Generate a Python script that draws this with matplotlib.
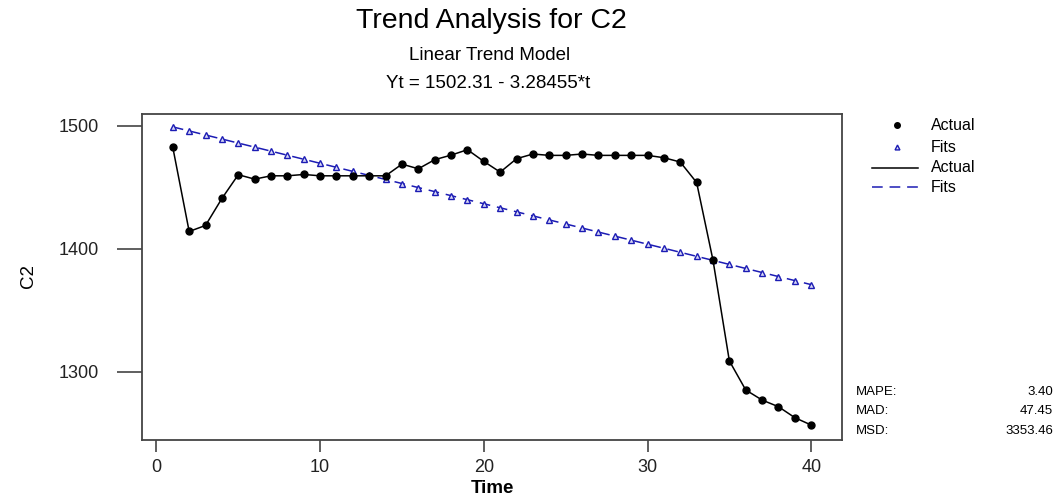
import numpy as np
import matplotlib
matplotlib.use("Agg")
from matplotlib import pyplot as plt
from matplotlib.lines import Line2D

plt.rcParams['font.family'] = ['Liberation Sans', 'DejaVu Sans']

# data
t = list(range(1, 41))
actual = [1482.4, 1414.1, 1419.0, 1440.9, 1460.2, 1456.6, 1459.3, 1459.3, 1460.4, 1459.3,
          1459.3, 1459.3, 1459.3, 1459.3, 1468.8, 1465.0, 1472.4, 1476.1, 1480.5, 1471.0,
          1462.3, 1473.2, 1477.0, 1475.9, 1475.9, 1477.0, 1475.9, 1475.9, 1475.9, 1475.9,
          1474.0, 1470.5, 1453.9, 1390.8, 1309.0, 1285.4, 1277.2, 1271.8, 1262.9, 1256.9]
fits = [1499.03, 1495.74, 1492.46, 1489.17, 1485.89, 1482.60, 1479.32, 1476.03, 1472.75, 1469.46,
        1466.18, 1462.90, 1459.61, 1456.33, 1453.04, 1449.76, 1446.47, 1443.19, 1439.90, 1436.62,
        1433.33, 1430.05, 1426.77, 1423.48, 1420.20, 1416.91, 1413.63, 1410.34, 1407.06, 1403.77,
        1400.49, 1397.20, 1393.92, 1390.64, 1387.35, 1384.07, 1380.78, 1377.50, 1374.21, 1370.93]
stat_names = ['MAPE:', 'MAD:', 'MSD:']
stat_vals = ['3.40', '47.45', '3353.46']
legend_labels = ['Actual', 'Fits', 'Actual', 'Fits']

blue = '#1c1cb4'
dash = (0, (7, 4.5))
W, H = 1061, 503

fig = plt.figure(figsize=(W / 100, H / 100), dpi=100)
ax = fig.add_axes([141.7 / W, 1 - 439.7 / H, 700.6 / W, 325.7 / H])

ax.plot(t, actual, color='black', lw=1.1, marker='o', ms=5, zorder=3)
ax.plot(t, fits, color=blue, lw=1.1, ls=dash, marker='^', ms=4,
        mfc='#d8d8f4', mec=blue, mew=1.0, zorder=2)

ax.set_xlim(-0.9, 41.9)
ax.set_ylim(1245, 1509.5)
ax.set_xticks([0, 10, 20, 30, 40])
ax.set_yticks([1300, 1400, 1500])
ax.tick_params(direction='out', width=1.2, labelsize=13, color='#444444', labelcolor='#222222')
ax.tick_params(axis='x', length=8.6, pad=5)
ax.tick_params(axis='y', length=18, pad=13)
for s in ax.spines.values():
    s.set_linewidth(1.3)
    s.set_color('#444444')
ax.set_xlabel('Time', fontsize=13.5, fontweight='bold', labelpad=3)

# text outside the axes, placed in pixel terms of the figure
def px(x, y):
    return x / W, 1 - y / H

fig.text(*px(28, 276), 'C2', ha='center', va='center', rotation=90, fontsize=13.5)
fig.text(*px(491, 21), 'Trend Analysis for C2', ha='center', va='center', fontsize=20.5)
fig.text(*px(490, 56), 'Linear Trend Model', ha='center', va='center', fontsize=13.5)
fig.text(*px(488, 84), 'Yt = 1502.31 - 3.28455*t', ha='center', va='center', fontsize=13.5)

# legend drawn on a full-figure overlay in pixel units
lg = fig.add_axes([0, 0, 1, 1], facecolor='none')
lg.set_xlim(0, W)
lg.set_ylim(H, 0)
lg.axis('off')
rows_y = [125, 147, 168, 187]
lg.plot([896.7], [rows_y[0]], 'o', color='black', ms=4)
lg.plot([896.7], [rows_y[1]], '^', color=blue, mfc='#d8d8f4', ms=3.5)
lg.plot([871.7, 918.3], [rows_y[2]] * 2, color='black', lw=1.1)
lg.plot([871.7, 918.3], [rows_y[3]] * 2, color=blue, lw=1.1, ls=dash)
for yy, lab in zip(rows_y, legend_labels):
    lg.text(930.7, yy, lab, ha='left', va='center', fontsize=11.5)

for i, (n, v) in enumerate(zip(stat_names, stat_vals)):
    yy = 392 + i * 19.5
    lg.text(856, yy, n, ha='left', va='center', fontsize=9.5)
    lg.text(1053, yy, v, ha='right', va='center', fontsize=9.5)

fig.savefig('out.png', dpi=100, facecolor='white')
